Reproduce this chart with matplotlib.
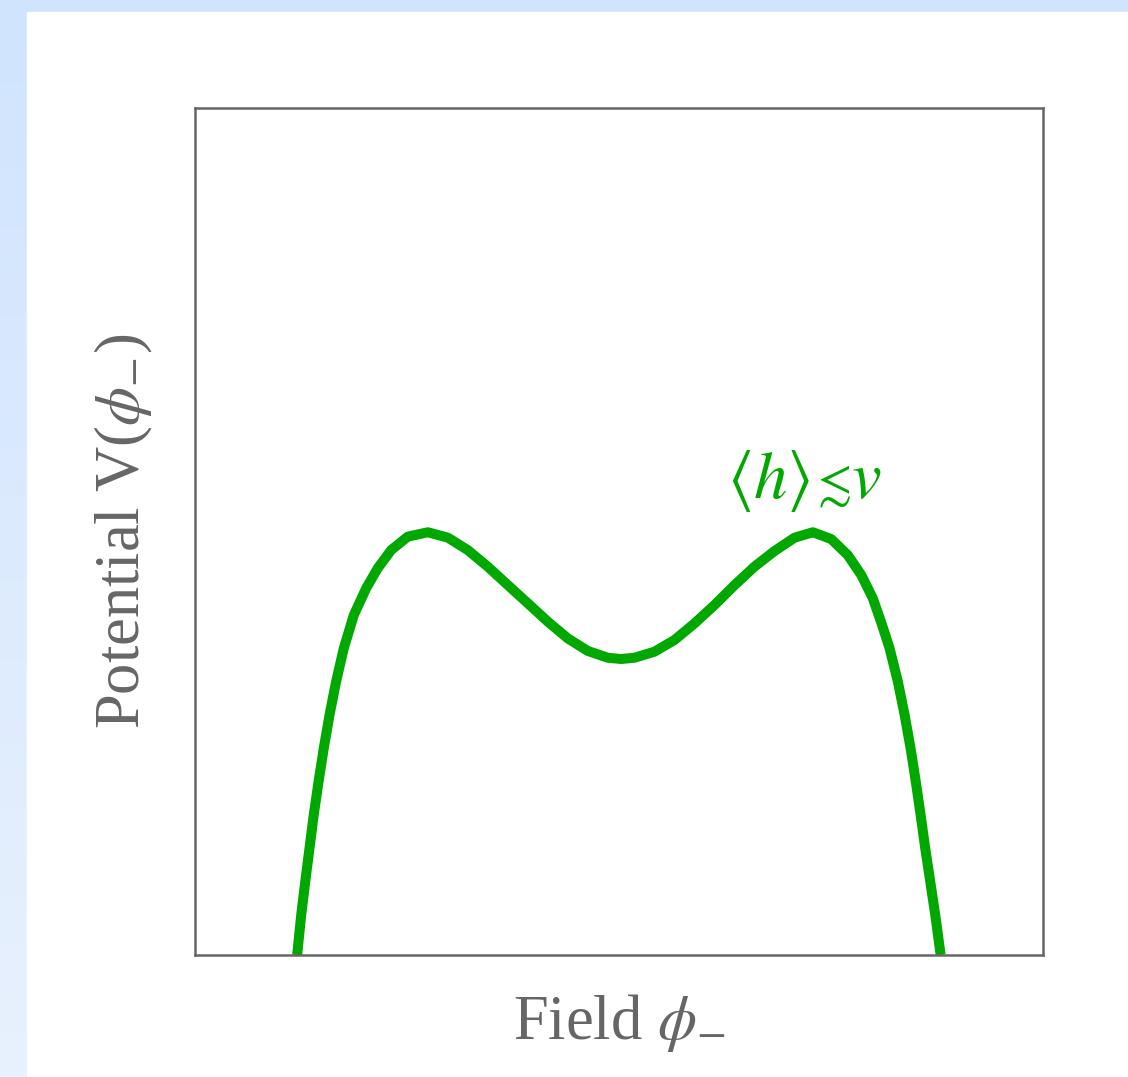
import matplotlib.pyplot as plt
import numpy as np
from matplotlib.patches import Rectangle
from matplotlib.offsetbox import TextArea, HPacker, AnnotationBbox

# curve (field in units of v, potential in units of the barrier height)
campo = [-1.670, -1.649, -1.628, -1.606, -1.584, -1.559, -1.532, -1.502, -1.468, -1.428,
         -1.376, -1.312, -1.252, -1.182, -1.096, -0.992, -0.888, -0.785, -0.681, -0.577,
         -0.473, -0.369, -0.266, -0.162, -0.058, 0.011, 0.080, 0.184, 0.288, 0.392,
         0.496, 0.600, 0.703, 0.807, 0.911, 1.006, 1.101, 1.187, 1.257, 1.317,
         1.365, 1.404, 1.447, 1.482, 1.513, 1.540, 1.565, 1.589, 1.615, 1.641, 1.669]
potencial = [-2.357, -2.040, -1.775, -1.510, -1.246, -0.982, -0.717, -0.452, -0.188, 0.077,
             0.341, 0.553, 0.712, 0.857, 0.963, 0.998, 0.955, 0.857, 0.725, 0.579,
             0.434, 0.288, 0.156, 0.056, 0.002, -0.008, 0.002, 0.050, 0.143, 0.275,
             0.421, 0.579, 0.725, 0.849, 0.955, 0.998, 0.944, 0.817, 0.659, 0.474,
             0.262, 0.077, -0.188, -0.452, -0.717, -0.982, -1.246, -1.510, -1.775, -2.040, -2.357]

rotulo_x = r"Field $\phi_{-}$"
rotulo_y = r"Potential V($\phi_{-}$)"
anotacao = [r"$\langle h\rangle$", r"$\lesssim$", r"$v$"]
anot_pos = (0.96, 1.40)

verde = "#00a800"
cinza = "#666666"

plt.rcParams['font.family'] = ['Liberation Serif', 'DejaVu Serif']
plt.rcParams['mathtext.fontset'] = 'stix'

fig = plt.figure(figsize=(11.28, 10.77), dpi=100)

# fundo azul claro com painel branco
fundo = fig.add_axes([0, 0, 1, 1])
grad = np.linspace(0, 1, 256).reshape(-1, 1)
topo = np.array([208, 228, 253]) / 255
base = np.array([232, 241, 253]) / 255
img = topo + (base - topo) * grad[..., None]
fundo.imshow(img, extent=[0, 1, 0, 1], aspect='auto', origin='upper')
fundo.add_patch(Rectangle((27 / 1128, 0), 1, 1 - 12 / 1077, color='white'))
fundo.set_xlim(0, 1)
fundo.set_ylim(0, 1)
fundo.axis('off')

ax = fig.add_axes([195 / 1128, 122 / 1077, 848 / 1128, 847 / 1077])
ax.set_facecolor('white')
ax.plot(campo, potencial, color=verde, linewidth=7.2, solid_capstyle='butt',
        solid_joinstyle='round')
ax.set_xlim(-2.2, 2.2)
ax.set_ylim(-2.357, 4.365)
ax.set_xticks([])
ax.set_yticks([])
for s in ax.spines.values():
    s.set_color(cinza)
    s.set_linewidth(1.8)

ax.set_xlabel(rotulo_x, fontsize=45, color=cinza, labelpad=27)
ax.set_ylabel(rotulo_y, fontsize=45, color=cinza, labelpad=29)

# rótulo verde: o sinal ≲ é menor que o resto
partes = [TextArea(anotacao[0], textprops=dict(size=48, color=verde)),
          TextArea(anotacao[1], textprops=dict(size=36, color=verde)),
          TextArea(anotacao[2], textprops=dict(size=48, color=verde))]
caixa = HPacker(children=partes, align='baseline', pad=0, sep=0)
ab = AnnotationBbox(caixa, anot_pos, frameon=False, box_alignment=(0.5, 0.5), pad=0)
ax.add_artist(ab)

fig.savefig("out.png", dpi=100)
